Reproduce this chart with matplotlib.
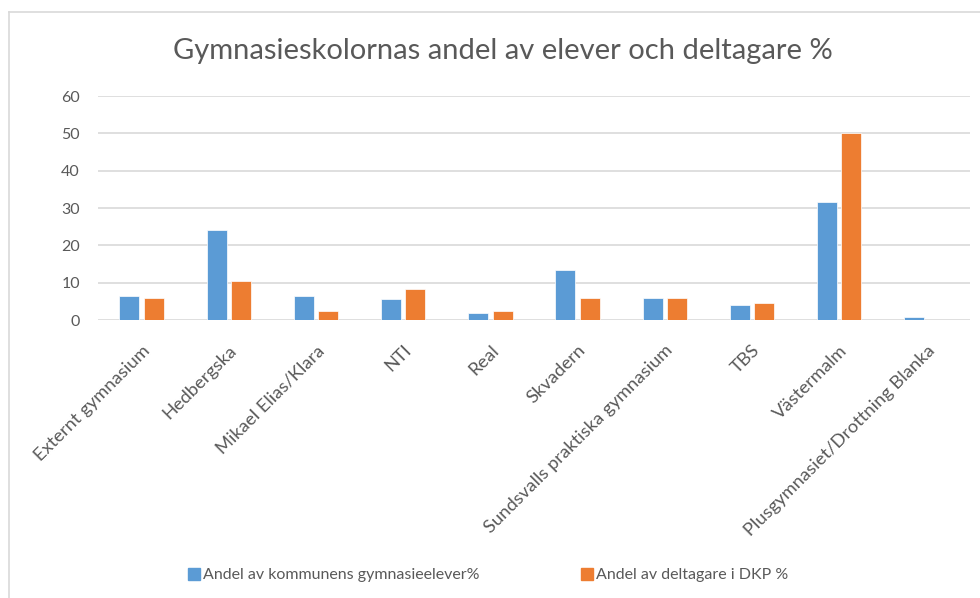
import matplotlib
matplotlib.use("Agg")
import matplotlib.pyplot as plt
import numpy as np
from matplotlib.lines import Line2D

categories = ["Externt gymnasium", "Hedbergska", "Mikael Elias/Klara", "NTI", "Real",
              "Skvadern", "Sundsvalls praktiska gymnasium", "TBS", "Västermalm",
              "Plusgymnasiet/Drottning Blanka"]
elever = [6.4, 24.2, 6.4, 5.5, 1.8, 13.3, 5.9, 4.1, 31.5, 0.9]
dkp = [5.9, 10.5, 2.3, 8.2, 2.3, 5.9, 5.9, 4.6, 50.0, 0.0]
series_names = ["Andel av kommunens gymnasieelever%", "Andel av deltagare i DKP %"]
yticks = [0, 10, 20, 30, 40, 50, 60]

plt.rcParams['font.family'] = ['Lato', 'DejaVu Sans']
TXT = '#595959'
BLUE = '#5B9BD5'
ORANGE = '#ED7D31'

fig = plt.figure(figsize=(9.8, 5.98), dpi=100)
W, H = 980, 598
ax = fig.add_axes([98 / W, 1 - 320 / H, (970 - 98) / W, (320 - 96) / H])

x = np.arange(len(categories))
bw = 0.23
off = 0.14
ax.bar(x - off, elever, bw, color=BLUE, edgecolor='white', linewidth=0.5, zorder=3)
ax.bar(x + off, dkp, bw, color=ORANGE, edgecolor='white', linewidth=0.5, zorder=3)

ax.set_xlim(-0.5, len(categories) - 0.5)
ax.set_ylim(0, 60)
ax.set_yticks(yticks)
ax.set_yticklabels([str(v) for v in yticks], color=TXT, fontsize=11.5)
ax.yaxis.grid(True, color='#D9D9D9', linewidth=1.2, zorder=0)
ax.set_axisbelow(True)
for s in ax.spines.values():
    s.set_visible(False)
ax.tick_params(axis='both', length=0)
ax.tick_params(axis='y', pad=13)
ax.set_xticks(x)
ax.set_xticklabels(categories, rotation=45, ha='right', rotation_mode='anchor',
                   color=TXT, fontsize=13.2)
ax.tick_params(axis='x', pad=16)

fig.text(503 / W, 1 - 51 / H, "Gymnasieskolornas andel av elever och deltagare %",
         ha='center', va='center', fontsize=21, color=TXT)

colors = [BLUE, ORANGE]
starts = [186, 579]
for name, col, sx in zip(series_names, colors, starts):
    h = Line2D([], [], marker='s', linestyle='none', markersize=8, color=col)
    fig.legend([h], [name], loc='center left', bbox_to_anchor=(sx / W, 1 - 575 / H),
               frameon=False, fontsize=11.5, labelcolor=TXT, handletextpad=0.05,
               handlelength=1, borderpad=0, borderaxespad=0)

# chart border
fig.add_artist(Line2D([9 / W, 9 / W], [0, 1 - 12 / H], color='#D9D9D9', linewidth=1.2,
                      transform=fig.transFigure))
fig.add_artist(Line2D([9 / W, 1], [1 - 12 / H, 1 - 12 / H], color='#D9D9D9', linewidth=1.2,
                      transform=fig.transFigure))

fig.savefig("out.png", dpi=100, facecolor='white')
